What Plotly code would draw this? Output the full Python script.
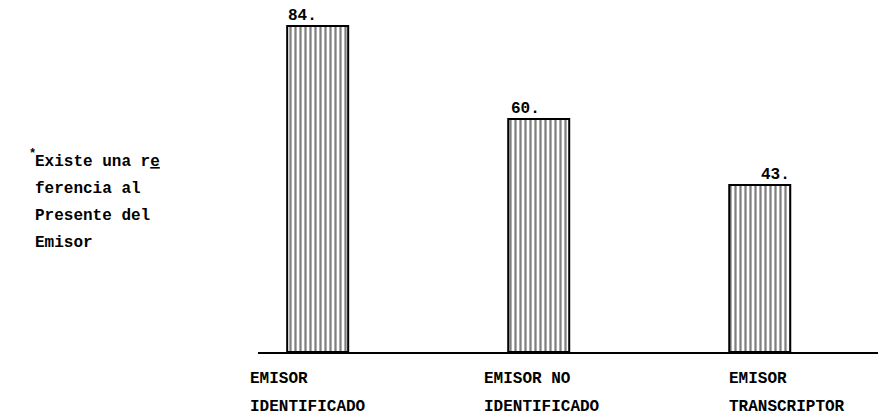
import plotly.graph_objects as go

categories = ["EMISOR IDENTIFICADO", "EMISOR NO IDENTIFICADO", "EMISOR TRANSCRIPTOR"]
label_line1 = ["EMISOR", "EMISOR NO", "EMISOR"]
label_line2 = ["IDENTIFICADO", "IDENTIFICADO", "TRANSCRIPTOR"]
values = [84, 60, 43]
note_lines = ["Existe una r<u>e</u>", "ferencia al", "Presente del", "Emisor"]

FONT = dict(family="Liberation Mono, Courier New, monospace", size=16, color="black", weight="bold")

fig = go.Figure()
fig.add_trace(go.Bar(
    x=categories, y=values, width=0.276,
    marker=dict(color="white", line=dict(color="black", width=2),
                pattern=dict(shape="|", size=5, solidity=0.45, fgcolor="black", bgcolor="white")),
    hoverinfo="skip",
))

val_shift = [-15, -13, 16]
lab_shift = [-70, -57, -33]
for i, c in enumerate(categories):
    fig.add_annotation(x=c, y=values[i], yref="y", text=f"{values[i]}.", showarrow=False,
                       xanchor="center", yanchor="bottom", xshift=val_shift[i], yshift=-1, font=FONT)
    fig.add_annotation(x=c, y=0, yref="y", text=label_line1[i], showarrow=False,
                       xanchor="left", yanchor="middle", xshift=lab_shift[i], yshift=-27, font=FONT)
    fig.add_annotation(x=c, y=0, yref="y", text=label_line2[i], showarrow=False,
                       xanchor="left", yanchor="middle", xshift=lab_shift[i], yshift=-55, font=FONT)

for j, line in enumerate(note_lines):
    fig.add_annotation(xref="paper", yref="paper", x=-0.363, y=0.555 - j * 0.079,
                       text=line, showarrow=False, xanchor="left", yanchor="middle", font=FONT)
fig.add_annotation(xref="paper", yref="paper", x=-0.373, y=0.555 + 0.025, text="*",
                   showarrow=False, xanchor="left", yanchor="middle",
                   font=dict(family=FONT["family"], size=12, color="black", weight="bold"))

fig.update_layout(
    width=880, height=420,
    margin=dict(l=258, r=2, t=10, b=68),
    paper_bgcolor="white", plot_bgcolor="white",
    showlegend=False,
    xaxis=dict(range=[-0.27, 2.535], showticklabels=False, ticks="", showgrid=False,
               showline=True, linecolor="black", linewidth=2, zeroline=False, fixedrange=True),
    yaxis=dict(range=[0, 88.1], visible=False, fixedrange=True),
)

fig.write_html("out.html", config={"displayModeBar": False},
               post_script="document.body.style.margin='0';")
